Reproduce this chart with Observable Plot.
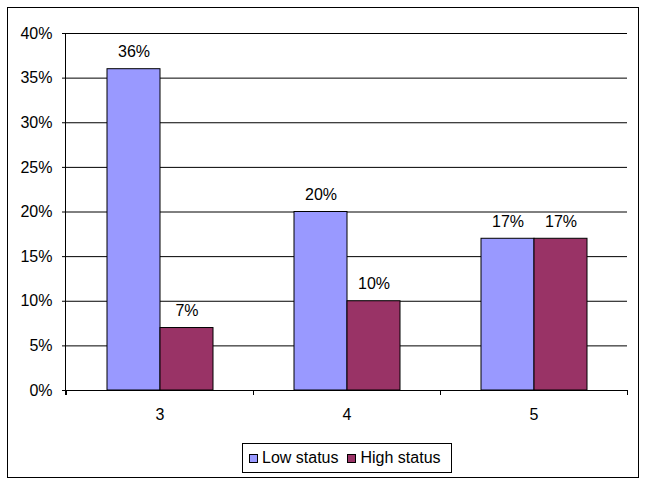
<!DOCTYPE html>
<html>
<head>
<meta charset="utf-8">
<script src="https://cdn.jsdelivr.net/npm/d3@7"></script>
<script src="https://cdn.jsdelivr.net/npm/@observablehq/plot@0.6"></script>
<style>
  html, body { margin: 0; padding: 0; background: white; }
  #wrap { position: relative; width: 645px; height: 483px; font-family: "Liberation Sans", Arial, sans-serif; }
  #border { position: absolute; left: 7px; top: 7px; width: 632px; height: 471px; border: 1px solid black; box-sizing: border-box; }
  #chart { position: absolute; left: 0; top: 0; }
  #legend { position: absolute; left: 242px; top: 443px; width: 210px; height: 30px; border: 1px solid black; box-sizing: border-box;
            display: flex; align-items: center; padding-left: 6px; font-size: 16px; color: black; }
  .item { display: flex; align-items: center; margin-right: 9px; }
  .sw { width: 9px; height: 9px; border: 1px solid black; box-sizing: border-box; margin-right: 4px; }
</style>
</head>
<body>
<div id="wrap">
  <div id="border"></div>
  <div id="chart"></div>
  <div id="legend"></div>
</div>
<script>
const categories = ["3", "4", "5"];
const series = ["Low status", "High status"];
const lowStatus = [0.36, 0.20, 0.17];
const highStatus = [0.07, 0.10, 0.17];
const colors = ["#9999FF", "#993366"];
const yTicks = [0, 0.05, 0.10, 0.15, 0.20, 0.25, 0.30, 0.35, 0.40];

const data = categories.flatMap((c, i) => [
  {cat: c, series: series[0], value: lowStatus[i]},
  {cat: c, series: series[1], value: highStatus[i]}
]);
const pct = v => Math.round(v * 100) + "%";

const plot = Plot.plot({
  width: 645,
  height: 440,
  marginLeft: 66,
  marginRight: 18,
  marginTop: 33,
  marginBottom: 50,
  style: {fontFamily: "'Liberation Sans', Arial, sans-serif", fontSize: "16px", color: "black", background: "transparent", overflow: "visible"},
  fx: {domain: categories, padding: 0, label: null},
  x: {domain: series, paddingInner: 0, paddingOuter: 0.764, axis: null},
  y: {domain: [0, 0.40], label: null},
  color: {domain: series, range: colors},
  marks: [
    Plot.gridY(yTicks, {stroke: "black", strokeOpacity: 1}),
    Plot.axisY(yTicks, {tickSize: 4, tickPadding: 10, tickFormat: pct, label: null, fontSize: 16, stroke: "black"}),
    Plot.axisFx({anchor: "bottom", tickSize: 0, tickPadding: 18, label: null, fontSize: 16}),
    Plot.barY(data, {fx: "cat", x: "series", y: "value", fill: "series", stroke: "black", strokeWidth: 1}),
    Plot.text(data, {fx: "cat", x: "series", y: "value", text: d => pct(d.value), dy: -17, fontSize: 16, fill: "black"})
  ]
});

document.getElementById("chart").appendChild(plot);

// Excel-style category boundary ticks and left axis line, from the plot's scales
const fx = plot.scale("fx");
const ys = plot.scale("y");
const svg = d3.select(plot);
const g = svg.append("g").attr("stroke", "black").attr("stroke-width", 1);
const y0 = ys.apply(0), yTop = ys.apply(0.40);
const bounds = d3.range(categories.length + 1).map(i => fx.range[0] + i * fx.step);
bounds.forEach(b => {
  const x = Math.round(b) + 0.5;
  g.append("line").attr("x1", x).attr("x2", x).attr("y1", Math.round(y0)).attr("y2", Math.round(y0) + 5);
});
const lx = Math.round(fx.range[0]) - 0.5;
g.append("line").attr("x1", lx).attr("x2", lx).attr("y1", Math.round(yTop)).attr("y2", Math.round(y0) + 5);

// legend
const legend = d3.select("#legend");
series.forEach((s, i) => {
  const it = legend.append("div").attr("class", "item");
  it.append("div").attr("class", "sw").style("background", colors[i]);
  it.append("span").text(s);
});
</script>
</body>
</html>
